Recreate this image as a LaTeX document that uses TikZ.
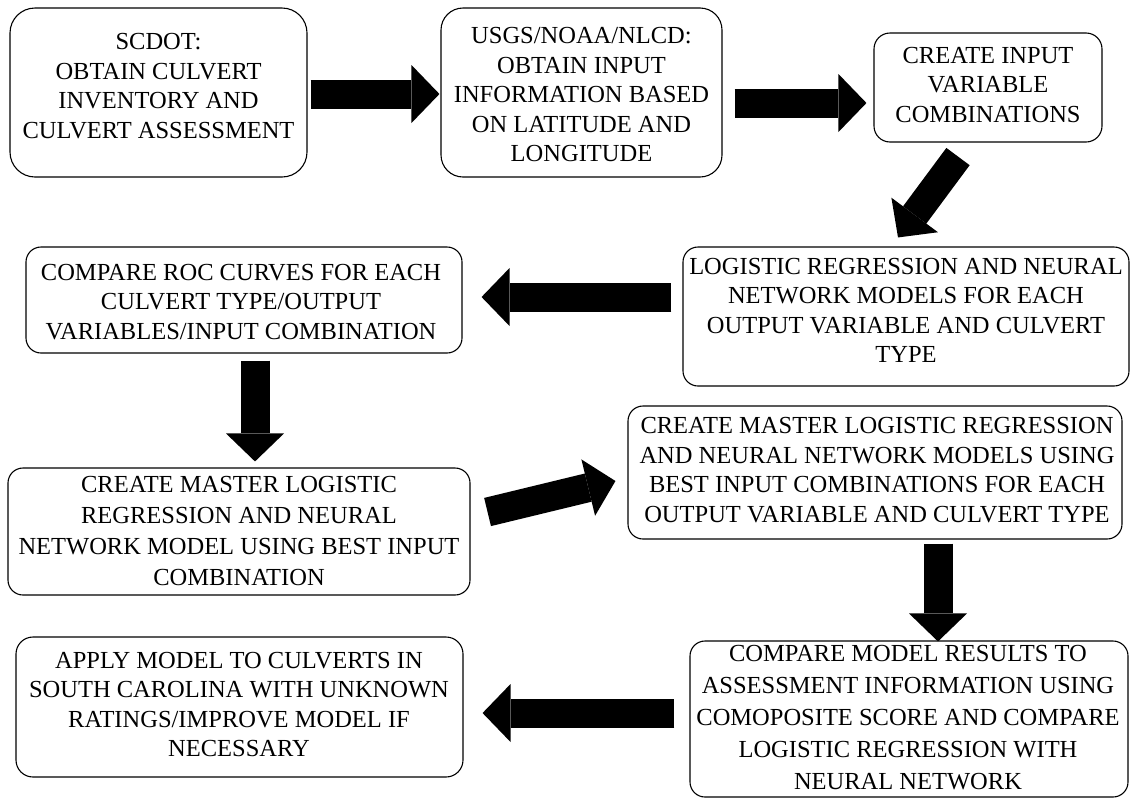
\documentclass[tikz,border=0pt]{standalone}
\usepackage{fontspec}
\setmainfont{Liberation Serif}
\usetikzlibrary{arrows.meta,calc}
\begin{document}
\begin{tikzpicture}[x=1pt,y=-1pt,
  box/.style={draw=black, line width=1.1pt, rounded corners=15pt, inner sep=0pt, fill=white},
  txt/.style={inner sep=0pt, align=center, font=\fontsize{24.5}{29.5}\selectfont},
  blk/.style={line width=29pt, draw=black, -{Triangle[width=58pt,length=28pt,line width=0pt]}}
]
\useasboundingbox[fill=white] (0,0) rectangle (1131,801);

% boxes
\node[box, minimum width=297pt, minimum height=169pt, rounded corners=25pt] (b1) at (158.5,92.5) {};
\node[box, minimum width=281pt, minimum height=169pt, rounded corners=22pt] (b2) at (581.5,92.5) {};
\node[box, minimum width=228pt, minimum height=109pt, rounded corners=16pt] (b3) at (988,87.5) {};
\node[box, minimum width=446pt, minimum height=139pt] (b4) at (906,316.5) {};
\node[box, minimum width=436pt, minimum height=106pt] (b5) at (244,300) {};
\node[box, minimum width=462pt, minimum height=127pt] (b6) at (239,531.5) {};
\node[box, minimum width=494pt, minimum height=133pt] (b7) at (875,472.5) {};
\node[box, minimum width=438pt, minimum height=156pt] (b8) at (909,719) {};
\node[box, minimum width=447pt, minimum height=140pt, rounded corners=17pt] (b9) at (239.5,707) {};

% texts
\node[txt] (t1) at (158.5,86) {SCDOT:\\OBTAIN CULVERT\\INVENTORY AND\\CULVERT ASSESSMENT};
\node[txt] (t2) at (581.5,95) {USGS/NOAA/NLCD:\\OBTAIN INPUT\\INFORMATION BASED\\ON LATITUDE AND\\LONGITUDE};
\node[txt] (t3) at (988,85) {CREATE INPUT\\VARIABLE\\COMBINATIONS};
\node[txt] (t4) at (906,310.5) {LOGISTIC REGRESSION AND NEURAL\\NETWORK MODELS FOR EACH\\OUTPUT VARIABLE AND CULVERT\\TYPE};
\node[txt] (t5) at (241,302) {COMPARE ROC CURVES FOR EACH\\CULVERT TYPE/OUTPUT\\VARIABLES/INPUT COMBINATION};
\node[txt, font=\fontsize{24.5}{30.7}\selectfont] (t6) at (239,531) {CREATE MASTER LOGISTIC\\REGRESSION AND NEURAL\\NETWORK MODEL USING BEST INPUT\\COMBINATION};
\node[txt] (t7) at (877,470) {CREATE MASTER LOGISTIC REGRESSION\\AND NEURAL NETWORK MODELS USING\\BEST INPUT COMBINATIONS FOR EACH\\OUTPUT VARIABLE AND CULVERT TYPE};
\node[txt, font=\fontsize{24.5}{32}\selectfont] (t8) at (908,718) {COMPARE MODEL RESULTS TO\\ASSESSMENT INFORMATION USING\\COMOPOSITE SCORE AND COMPARE\\LOGISTIC REGRESSION WITH\\NEURAL NETWORK};
\node[txt] (t9) at (239,704.5) {APPLY MODEL TO CULVERTS IN\\SOUTH CAROLINA WITH UNKNOWN\\RATINGS/IMPROVE MODEL IF\\NECESSARY};

% block arrows
\draw[blk] ($(b1.east)+(3,1.5)$) -- ($(b2.west)+(-1,1.5)$);
\draw[blk] ($(b2.east)+(12,10.5)$) -- ($(b3.west)+(-7,15.5)$);
\draw[blk] ($(b3.south)+(-30,14)$) -- ($(b4.north)+(-8,-9)$);
\draw[blk] ($(b4.west)+(-11,-19.5)$) -- ($(b5.east)+(19,-3)$);
\draw[blk] ($(b5.south)+(11,7)$) -- ($(b6.north)+(16,-6)$);
\draw[blk] ($(b6.east)+(17,-19.5)$) -- ($(b7.west)+(-12,8.5)$);
\draw[blk] ($(b7.south)+(63,4)$) -- ($(b8.north)+(29,1)$);
\draw[blk] ($(b8.west)+(-15,-6)$) -- ($(b9.east)+(19,6)$);
\end{tikzpicture}
\end{document}
